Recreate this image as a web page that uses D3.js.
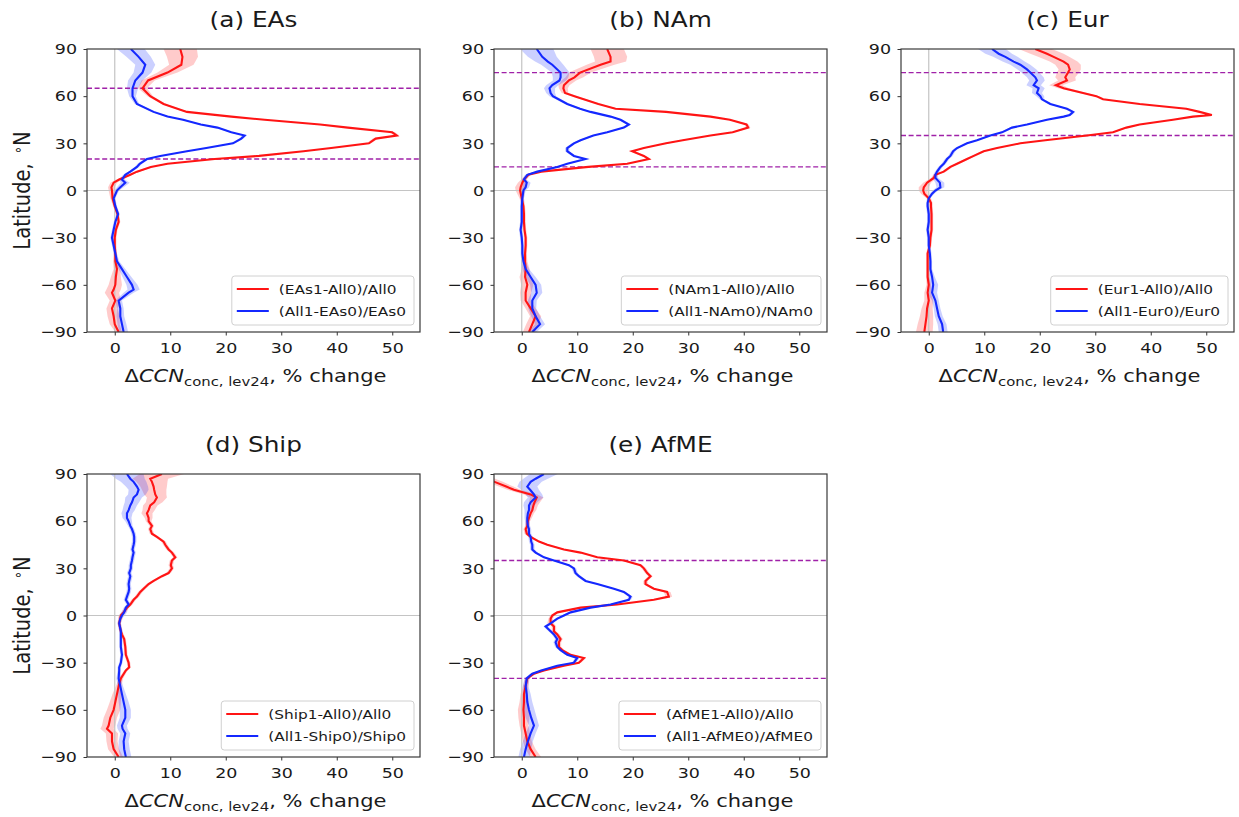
<!DOCTYPE html>
<html>
<head>
<meta charset="utf-8">
<script src="https://cdn.jsdelivr.net/npm/d3@7"></script>
<style>
  body { margin: 0; background: #fff; }
  svg text { font-family: "DejaVu Sans", sans-serif; }
</style>
</head>
<body>
<div id="chart"></div>
<script>
// values (latitude in deg N, % change)

// (a) EAs
var latA = [90,85,80,75,70,65,60,55,50,47,45,42,40,37,35,33,30,27,25,22,20,17,15,12,10,7,5,2,0,
  -5,-10,-15,-20,-25,-30,-35,-40,-45,-50,-55,-60,-63,-65,-70,-75,-80,-85,-90];
var redA = [11.8,12.2,12.0,9.5,6.0,5.0,6.4,8.8,13,21,27,37,42,50,50.8,47,45.8,39,34,26,18,9.5,6.5,4,2.8,0.8,-0.2,-0.6,-0.5,
  -0.4,0,0.5,0.7,0.2,0,0,0.1,0.1,0.4,0.2,0.1,-0.2,-0.5,0.1,-0.5,-0.2,0,0.7];
var blueA = [2.9,4.3,5.5,5.0,3.7,3.2,3.2,4,7,9.5,12.3,15.5,18.5,21,23.4,22.8,21.3,16.5,13,8.2,5.8,4.5,4,2.8,1.9,1.3,1.9,1.0,0.4,
  -0.2,0.1,0.6,0.1,-0.2,-0.5,-0.2,0.1,0.4,1.3,2.2,3.1,3.4,2.5,0.7,1.0,1.0,1.3,1.6];
var redSprA = [3,2.8,2.2,1.8,1.2,0.8,0.5,0.4,0.4,0.4,0.4,0.4,0.4,0.5,0.5,0.5,0.4,0.4,0.4,0.4,0.4,0.4,0.4,0.4,0.4,0.5,0.6,0.6,0.6,
  0.4,0.3,0.3,0.3,0.3,0.3,0.3,0.3,0.4,0.6,0.9,1.2,1.3,1.3,1.0,1.0,1.1,0.9,0.6];
var blueSprA = [2.5,2.2,1.8,1.6,1.3,1.0,0.6,0.4,0.4,0.4,0.4,0.4,0.4,0.4,0.4,0.4,0.4,0.4,0.4,0.4,0.4,0.4,0.4,0.4,0.4,0.5,0.8,0.6,0.4,
  0.3,0.3,0.3,0.3,0.3,0.3,0.3,0.3,0.4,0.6,0.8,1.0,1.1,0.9,0.6,0.6,0.7,0.8,0.8];

// (b) NAm
var latB = [90,85,82,80,75,72,70,67,65,62,60,55,52,50,47,45,42,40,37,35,32,30,27,25,22,20,17,15,12,10,7,5,2,0,
  -5,-10,-15,-20,-25,-30,-35,-40,-45,-50,-55,-60,-65,-70,-75,-80,-85,-90];
var redB = [15.4,16,16,14.2,10.5,9.5,8.5,7.6,7.5,7.8,9.5,13.8,16.9,26,34,37.5,40.5,40.8,38,34,29,26,22,19.9,22,22.9,19,12,3.5,1.2,0.4,0.1,-0.2,-0.3,
  0,0.3,0.4,0.4,0.5,0.7,0.7,0.6,0.6,0.7,0.6,1,0.7,0.7,1.6,2.5,1.9,1.3];
var blueB = [2.7,3.7,4.7,5.5,7,7.0,6.8,5.5,5.0,5.2,5.6,8.2,10.5,12.4,16,17.8,19.3,18.4,15.4,12.9,10.6,9.4,8.2,8.2,9.4,11.5,8.2,6.4,2.8,1,0.4,0.9,0.7,0.3,
  0.1,0,0,0,-0.2,0,0.1,0.1,0.3,0.7,1.6,2.5,2.7,1.9,1.9,2.5,3.3,1.9];
var redSprB = [3,3,2.8,2.5,2,1.6,1.3,1,0.8,0.6,0.5,0.4,0.4,0.4,0.4,0.4,0.4,0.4,0.4,0.4,0.4,0.4,0.4,0.4,0.4,0.4,0.4,0.4,0.4,0.4,0.5,0.8,1,0.8,
  0.4,0.3,0.3,0.3,0.3,0.3,0.3,0.3,0.4,0.7,1,1.1,1,0.9,0.9,1,1.1,1.1];
var blueSprB = [3,2.6,2.3,2,1.6,1.4,1.2,1.1,1,0.8,0.6,0.4,0.4,0.4,0.4,0.4,0.4,0.4,0.4,0.4,0.4,0.4,0.4,0.4,0.4,0.4,0.4,0.4,0.4,0.4,0.4,0.7,0.6,0.4,
  0.3,0.3,0.3,0.3,0.3,0.3,0.3,0.3,0.4,0.6,0.9,1,1,0.8,0.7,0.8,0.9,0.8];

// (c) Eur
var latC = [90,87,85,82,80,77,75,72,70,67,65,62,60,58,55,52,50,48,47,45,42,40,37,35,32,30,27,25,22,20,17,15,12,10,8,5,2,0,
  -2,-5,-8,-10,-15,-20,-25,-30,-35,-40,-45,-50,-55,-60,-65,-70,-75,-80,-85,-90];
var redC = [19.2,21.3,22.5,24.3,25.1,25.4,25.1,24.6,24.9,22.9,24.3,27.8,30.2,31.4,38,46.4,48.8,51,47.6,44,38,35.6,33.2,28.5,21,16.5,12.3,9.9,8.1,6.9,5.1,3.9,2.7,1.2,0.9,-0.3,-0.9,-1,
  -0.8,0,0.4,0.4,0.5,0.5,0.5,0.3,0.2,-0.2,-0.2,-0.2,-0.2,0,-0.2,0,-0.3,-0.4,-0.6,-0.8];
var blueC = [11.4,12.6,13.8,15.3,16.5,17.7,18.3,19.2,19.5,18.9,19.8,19.5,20.1,20.4,21.9,24.9,26,25.4,24.3,21.3,17.7,15,13.2,11.1,8.7,6.9,5.1,4.4,3.9,3.3,2.7,2.1,1.5,1.2,1.2,2,2.1,1.2,
  0.6,0,-0.2,-0.2,0,0,-0.2,0,0,0.2,0.3,0.3,0.6,0.8,0.6,1.2,1.5,1.8,2.4,2.6];
var redSprC = [3,3,2.8,2.5,2.3,2,2,1.8,1.6,1.2,1,0.7,0.5,0.4,0.4,0.4,0.4,0.4,0.4,0.4,0.4,0.4,0.4,0.4,0.4,0.4,0.4,0.4,0.4,0.4,0.4,0.4,0.4,0.4,0.5,0.7,0.9,0.8,
  0.6,0.4,0.3,0.3,0.3,0.3,0.3,0.3,0.3,0.3,0.3,0.3,0.3,0.4,0.6,0.8,1,1.2,1.4,1.5];
var blueSprC = [2.5,2.4,2.2,2,1.8,1.7,1.6,1.5,1.4,1.3,1.1,0.9,0.7,0.4,0.4,0.4,0.4,0.4,0.4,0.4,0.4,0.4,0.4,0.4,0.4,0.4,0.4,0.4,0.4,0.4,0.4,0.4,0.4,0.4,0.5,0.8,0.7,0.5,
  0.4,0.3,0.3,0.3,0.3,0.3,0.3,0.3,0.3,0.3,0.3,0.3,0.5,0.9,0.9,0.6,0.6,0.7,0.8,0.8];

// (d) Ship
var latD = [90,87,85,82,80,77,75,72,70,67,65,62,60,57,55,52,50,47,45,42,40,37,35,32,30,27,25,22,20,17,15,12,10,7,5,2,0,
  -2,-5,-10,-12,-15,-20,-25,-30,-33,-35,-40,-45,-50,-55,-60,-65,-70,-72,-75,-80,-85,-90];
var redD = [8.5,6.4,6.7,7,7.1,7.3,7.6,7.1,6.4,6.1,5.8,6.1,6.1,6.7,6.4,6.7,7.6,8.8,9.1,9.7,10.3,10.9,10.3,10.1,10.3,9.7,8.5,7,6.1,5.2,4.6,4,3.4,2.8,2.2,1.6,1.1,
  1,0.8,1.1,1.3,1.7,1.9,2,2.5,2.6,2,1.1,0.7,0.4,0.1,-0.2,-0.8,-1.1,-1.4,-0.5,-0.5,-0.2,0.7];
var blueD = [2.2,2.8,3.4,4,4.3,4,3.4,3.1,2.8,2.5,2.2,2.2,2.5,2.8,3.1,3.4,3.5,3.5,3.4,3.2,3.4,3.2,3.1,2.9,2.9,2.6,2.8,2.6,2.5,2.6,2.5,2.2,2,2.5,2,1.7,1.3,
  1,0.8,1.1,1.1,1.1,1.1,1.3,1.1,0.8,0.8,0.7,1,1.3,1.6,1.9,1.9,1.3,1.4,1.9,1.6,1.7,2];
var redSprD = [4,3.2,2.8,2.4,2.2,2,1.8,1.5,1.3,1.1,1,0.7,0.5,0.4,0.4,0.4,0.4,0.4,0.4,0.4,0.4,0.4,0.4,0.4,0.4,0.4,0.4,0.4,0.4,0.4,0.4,0.4,0.4,0.4,0.4,0.4,0.4,
  0.4,0.3,0.3,0.3,0.3,0.3,0.3,0.3,0.3,0.3,0.4,0.5,0.8,1,1.2,1.2,1.2,1.2,1.1,1,1,0.8];
var blueSprD = [3,2.6,2.3,2,1.8,1.6,1.5,1.3,1.2,1.1,1,0.8,0.6,0.4,0.4,0.4,0.4,0.4,0.4,0.4,0.4,0.4,0.4,0.4,0.4,0.4,0.4,0.4,0.4,0.4,0.4,0.4,0.4,0.4,0.4,0.5,0.5,
  0.3,0.3,0.3,0.3,0.3,0.3,0.3,0.3,0.3,0.3,0.4,0.5,0.7,0.9,1,1,0.9,0.9,0.9,0.9,1,1];

// (e) AfME
var latE = [90,87,85,82,80,77,75,72,70,67,65,62,60,57,55,52,50,47,45,42,40,37,35,32,30,27,25,22,20,17,15,12,10,7,5,2,0,
  -2,-5,-7,-10,-12,-15,-17,-20,-22,-25,-27,-30,-32,-35,-37,-40,-45,-50,-55,-60,-65,-70,-75,-80,-85,-90];
var redE = [-8.4,-6.3,-4.9,-2.8,-1.4,1.6,2.7,2.3,2.1,1.9,1.6,1.3,1.1,1,0.7,0.9,1.6,3.1,4.6,7.6,10.6,13.6,18.4,21.4,22,22.6,23.2,22.3,22.3,23.8,26.2,26.5,23.8,17.2,10.6,6.4,5.5,
  5.2,5.2,5.8,5.8,6.4,7,6.7,6.7,7.3,8.8,11.2,10.3,7.6,4,2.2,1,0.7,0.4,0.4,0.3,0.4,0.4,0.7,1,1.6,2.5];
var blueE = [4,2.5,1.6,1,1.5,2.2,2.5,1.6,1.3,1.3,1.1,1,1,1.1,1.3,1.3,1.6,1.7,1.9,1.9,2.5,4,5.8,8.5,9.4,9.7,10.3,11.5,13.6,16.6,18.4,19.6,19.3,16,12.4,8.8,7.6,
  6.4,5.2,4.3,5.2,5.8,6.4,6.1,6.4,7,8.2,10,9.4,6.4,3.5,1.9,0.9,0.7,0.9,1,1.3,1.7,2.2,1.6,1.1,0.7,0.4];
var redSprE = [1.5,1.5,1.5,1.3,1.2,1.2,1.2,1,0.8,0.7,0.6,0.5,0.4,0.4,0.4,0.4,0.4,0.4,0.4,0.4,0.4,0.4,0.4,0.4,0.4,0.4,0.4,0.4,0.4,0.4,0.6,0.6,0.4,0.4,0.4,0.4,0.4,
  0.4,0.6,0.4,0.4,0.4,0.4,0.4,0.4,0.4,0.4,0.4,0.4,0.4,0.4,0.4,0.4,0.5,0.6,0.8,1,1,0.8,0.8,0.8,0.9,1];
var blueSprE = [2.5,2.2,2,1.8,1.6,1.5,1.4,1.2,1,0.8,0.6,0.5,0.4,0.4,0.4,0.4,0.4,0.4,0.4,0.4,0.4,0.4,0.4,0.4,0.4,0.4,0.4,0.4,0.4,0.4,0.4,0.4,0.4,0.4,0.4,0.4,0.4,
  0.4,0.4,0.4,0.4,0.4,0.4,0.4,0.4,0.4,0.4,0.4,0.4,0.4,0.4,0.4,0.4,0.5,0.7,0.9,1,1,0.9,0.9,0.9,1,1];

var titles = ["(a) EAs", "(b) NAm", "(c) Eur", "(d) Ship", "(e) AfME"];
var regions = ["EAs", "NAm", "Eur", "Ship", "AfME"];
var boxLats = [[65, 20], [75, 15], [75, 35], [], [35, -40]];   // dashed purple lines
var xTicks = [0, 10, 20, 30, 40, 50];
var yTicks = [-90, -60, -30, 0, 30, 60, 90];

var panels = [
  {lat: latA, red: redA, blue: blueA, redSpr: redSprA, blueSpr: blueSprA, left: 87, top: 49},
  {lat: latB, red: redB, blue: blueB, redSpr: redSprB, blueSpr: blueSprB, left: 494, top: 49},
  {lat: latC, red: redC, blue: blueC, redSpr: redSprC, blueSpr: blueSprC, left: 901, top: 49},
  {lat: latD, red: redD, blue: blueD, redSpr: redSprD, blueSpr: blueSprD, left: 87, top: 474},
  {lat: latE, red: redE, blue: blueE, redSpr: redSprE, blueSpr: blueSprE, left: 494, top: 474}
];

var W = 1239, H = 817;
var pw = 333, ph = 283;
var sx = 1.18;   // the source picture is stretched sideways, so is its text
var redCol = "#ff1414", blueCol = "#1428ff";

var svg = d3.select("#chart").append("svg")
  .attr("width", W)
  .attr("height", H);

var x = d3.scaleLinear().domain([-5, 55]).range([0, pw]);
var y = d3.scaleLinear().domain([-90, 90]).range([ph, 0]);

panels.forEach(function(p, i) {
  var g = svg.append("g").attr("transform", "translate(" + p.left + "," + p.top + ")");

  g.append("clipPath").attr("id", "clip" + i)
    .append("rect").attr("width", pw).attr("height", ph);

  var plot = g.append("g").attr("clip-path", "url(#clip" + i + ")");

  var rows = p.lat.map(function(lat, k) {
    return {lat: lat, r: p.red[k], b: p.blue[k], rs: p.redSpr[k], bs: p.blueSpr[k]};
  });

  // spread bands
  plot.append("path").datum(rows)
    .attr("d", d3.area().y(function(d) { return y(d.lat); })
      .x0(function(d) { return x(d.r - d.rs); }).x1(function(d) { return x(d.r + d.rs); }))
    .attr("fill", redCol).attr("fill-opacity", 0.22);
  plot.append("path").datum(rows)
    .attr("d", d3.area().y(function(d) { return y(d.lat); })
      .x0(function(d) { return x(d.b - d.bs); }).x1(function(d) { return x(d.b + d.bs); }))
    .attr("fill", blueCol).attr("fill-opacity", 0.22);

  // zero lines
  plot.append("line").attr("x1", x(0)).attr("x2", x(0)).attr("y1", 0).attr("y2", ph)
    .attr("stroke", "#c4c4c4").attr("stroke-width", 1.2);
  plot.append("line").attr("x1", 0).attr("x2", pw).attr("y1", y(0)).attr("y2", y(0))
    .attr("stroke", "#c4c4c4").attr("stroke-width", 1.2);

  // source region bounds
  plot.selectAll(".bound").data(boxLats[i]).enter().append("line")
    .attr("x1", 0).attr("x2", pw)
    .attr("y1", function(d) { return y(d); }).attr("y2", function(d) { return y(d); })
    .attr("stroke", "#a021a8").attr("stroke-width", 1.4).attr("stroke-dasharray", "5,2.6");

  plot.append("path").datum(rows)
    .attr("d", d3.line().x(function(d) { return x(d.r); }).y(function(d) { return y(d.lat); }))
    .attr("fill", "none").attr("stroke", redCol).attr("stroke-width", 2.1);
  plot.append("path").datum(rows)
    .attr("d", d3.line().x(function(d) { return x(d.b); }).y(function(d) { return y(d.lat); }))
    .attr("fill", "none").attr("stroke", blueCol).attr("stroke-width", 2.1);

  // axes
  var gx = g.append("g").attr("transform", "translate(0," + ph + ")")
    .call(d3.axisBottom(x).tickValues(xTicks).tickSize(3.5).tickPadding(7));
  var gy = g.append("g")
    .call(d3.axisLeft(y).tickValues(yTicks).tickSize(3.5).tickPadding(5));
  [gx, gy].forEach(function(a) {
    a.select(".domain").remove();
    a.selectAll("line").attr("stroke", "#333");
    a.selectAll("text").attr("font-size", 14.8).attr("fill", "#1a1a1a")
      .attr("font-family", "DejaVu Sans")
      .attr("transform", "scale(" + sx + ",1)");
  });

  g.append("rect").attr("width", pw).attr("height", ph)
    .attr("fill", "none").attr("stroke", "#3a3a3a").attr("stroke-width", 1.2);

  // title
  g.append("text")
    .attr("transform", "translate(" + (pw / 2) + ",-22) scale(" + sx + ",1)")
    .attr("text-anchor", "middle").attr("font-size", 21).attr("fill", "#1a1a1a")
    .text(titles[i]);

  // x label
  var xl = g.append("text")
    .attr("transform", "translate(" + (pw / 2 + 2) + "," + (ph + 50) + ") scale(" + sx + ",1)")
    .attr("text-anchor", "middle").attr("font-size", 17.8).attr("fill", "#1a1a1a");
  xl.append("tspan").text("Δ");
  xl.append("tspan").attr("font-style", "italic").text("CCN");
  xl.append("tspan").attr("font-size", 12.6).attr("dy", 4.2).text("conc, lev24");
  xl.append("tspan").attr("dy", -4.2).text(", % change");

  // y label only on the left column
  if (p.left < 100) {
    var yl = g.append("text")
      .attr("transform", "translate(" + (30 - p.left) + "," + (ph / 2) + ") scale(" + sx + ",1) rotate(-90)")
      .attr("text-anchor", "middle").attr("font-size", 19.5).attr("fill", "#1a1a1a");
    yl.append("tspan").text("Latitude, ");
    yl.append("tspan").attr("font-size", 13).attr("dx", 3).attr("dy", -6).text("∘");
    yl.append("tspan").attr("dy", 6).text("N");
  }

  // legend
  var names = ["(" + regions[i] + "1-All0)/All0", "(All1-" + regions[i] + "0)/" + regions[i] + "0"];
  var lg = g.append("g");
  var frame = lg.append("rect");
  var tw = 0;
  names.forEach(function(n, k) {
    var ry = 13 + k * 22;
    lg.append("line").attr("x1", 5).attr("x2", 37).attr("y1", ry).attr("y2", ry)
      .attr("stroke", k === 0 ? redCol : blueCol).attr("stroke-width", 2.1);
    var t = lg.append("text")
      .attr("transform", "translate(47," + (ry + 4.6) + ") scale(" + sx + ",1)")
      .attr("font-size", 13).attr("fill", "#1a1a1a").text(n);
    tw = Math.max(tw, t.node().getComputedTextLength() * sx);
  });
  var bw = 47 + tw + 8, bh = 49;
  frame.attr("width", bw).attr("height", bh).attr("rx", 3)
    .attr("fill", "#fff").attr("fill-opacity", 0.8)
    .attr("stroke", "#d0d0d0").attr("stroke-width", 1);
  lg.attr("transform", "translate(" + (pw - 6 - bw) + "," + (ph - 7 - bh) + ")");
});
</script>
</body>
</html>
